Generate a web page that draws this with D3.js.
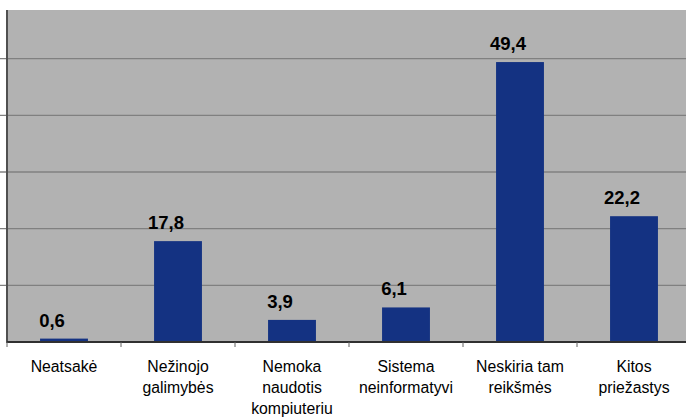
<!DOCTYPE html>
<html>
<head>
<meta charset="utf-8">
<script src="https://cdn.jsdelivr.net/npm/d3@7"></script>
<style>
  body { margin: 0; background: #fff; }
  svg { display: block; font-family: "Liberation Sans", Arial, sans-serif; }
</style>
</head>
<body>
<svg id="chart"></svg>
<script>
const categories = ['Neatsakė', 'Nežinojo galimybės', 'Nemoka naudotis kompiuteriu',
  'Sistema neinformatyvi', 'Neskiria tam reikšmės', 'Kitos priežastys'];
const categoryLines = [
  ['Neatsakė'],
  ['Nežinojo', 'galimybės'],
  ['Nemoka', 'naudotis', 'kompiuteriu'],
  ['Sistema', 'neinformatyvi'],
  ['Neskiria tam', 'reikšmės'],
  ['Kitos', 'priežastys']
];
const values = [0.6, 17.8, 3.9, 6.1, 49.4, 22.2];
const valueLabels = ['0,6', '17,8', '3,9', '6,1', '49,4', '22,2'];
const yTicks = [0, 10, 20, 30, 40, 50, 60];

const width = 686;
const height = 419;
const left = 7;
const baseY = 342;
const plotTop = 10;

const svg = d3.select('#chart').
attr('width', width).
attr('height', height);

const x = d3.scaleBand().
domain(categories).
range([left, left + 114 * 6]).
padding(0);

const y = d3.scaleLinear().
domain([0, 60]).
range([baseY, 2]);

const barWidth = x.bandwidth() * 0.42;

// plot background
svg.append('rect').
attr('x', left).
attr('y', plotTop).
attr('width', width - left).
attr('height', baseY - plotTop).
attr('fill', '#b2b2b2');

// gridlines + left ticks
const grid = yTicks.filter(function (d) {
  return y(d) >= plotTop && d > 0;
});
svg.selectAll('.grid').
data(grid).
enter().
append('line').
attr('class', 'grid').
attr('x1', 0).
attr('x2', width).
attr('y1', d => y(d)).
attr('y2', d => y(d)).
attr('stroke', '#808080').
attr('stroke-width', 1.3);

// bars
svg.selectAll('.bar').
data(values).
enter().
append('rect').
attr('class', 'bar').
attr('x', (d, i) => x(categories[i]) + (x.bandwidth() - barWidth) / 2).
attr('y', d => y(d)).
attr('width', barWidth).
attr('height', d => baseY - y(d)).
attr('fill', '#143282');

// value labels
svg.selectAll('.val').
data(values).
enter().
append('text').
attr('class', 'val').
attr('x', (d, i) => x(categories[i]) + x.bandwidth() / 2 - 12).
attr('y', d => y(d) - 12).
attr('text-anchor', 'middle').
style('font-size', '18.5px').
style('font-weight', 'bold').
text((d, i) => valueLabels[i]);

// y axis line
svg.append('line').
attr('x1', left).
attr('x2', left).
attr('y1', plotTop).
attr('y2', baseY + 1).
attr('stroke', '#505050').
attr('stroke-width', 2);

// baseline
svg.append('line').
attr('x1', left).
attr('x2', width).
attr('y1', baseY).
attr('y2', baseY).
attr('stroke', '#303030').
attr('stroke-width', 2);

// category tick marks
const catTicks = categories.map(c => x(c));
svg.selectAll('.ctick').
data(catTicks).
enter().
append('line').
attr('class', 'ctick').
attr('x1', d => d).
attr('x2', d => d).
attr('y1', baseY).
attr('y2', baseY + 5).
attr('stroke', '#606060').
attr('stroke-width', 1);

// category labels
const labels = svg.selectAll('.cat').
data(categoryLines).
enter().
append('text').
attr('class', 'cat').
attr('text-anchor', 'middle').
style('font-size', '15.8px').
attr('fill', '#000');

labels.selectAll('tspan').
data((d, i) => d.map(t => ({ t: t, i: i }))).
enter().
append('tspan').
attr('x', d => x(categories[d.i]) + x.bandwidth() / 2).
attr('y', (d, j) => 372 + 21 * j).
text(d => d.t);
</script>
</body>
</html>
